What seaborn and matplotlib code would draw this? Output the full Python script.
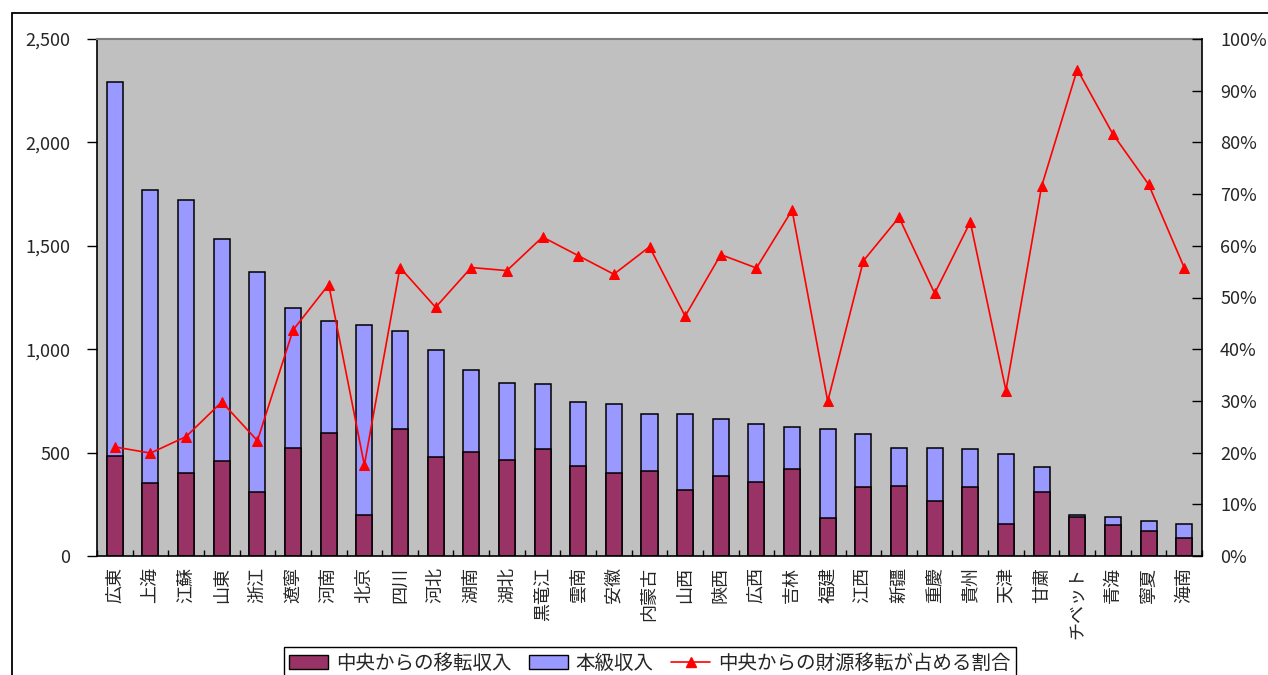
import numpy as np
import pandas as pd
import matplotlib
matplotlib.use("Agg")
import matplotlib.pyplot as plt
import seaborn as sns
from matplotlib.ticker import FuncFormatter, FixedLocator, MultipleLocator
from matplotlib.patches import Patch, Rectangle
from matplotlib.lines import Line2D

# Provincial revenue (100 million yuan) and share of central transfers
provinces = ["広東", "上海", "江蘇", "山東", "浙江", "遼寧", "河南", "北京", "四川", "河北",
             "湖南", "湖北", "黒竜江", "雲南", "安徽", "内蒙古", "山西", "陝西", "広西", "吉林",
             "福建", "江西", "新疆", "重慶", "貴州", "天津", "甘粛", "チベット", "青海", "寧夏", "海南"]
transfer = [484, 351, 400, 460, 310, 522, 593, 199, 612, 481,
            503, 462, 516, 436, 400, 412, 320, 388, 358, 419,
            182, 334, 339, 266, 334, 156, 310, 190, 152, 119, 85]
own_revenue = [1808, 1417, 1320, 1071, 1064, 675, 542, 919, 475, 514,
               397, 375, 316, 310, 335, 275, 367, 275, 279, 207,
               432, 256, 183, 256, 182, 335, 121, 9, 37, 51, 71]
transfer_share = [21.1, 19.9, 23.1, 29.8, 22.3, 43.7, 52.5, 17.6, 55.8, 48.1,
                  55.8, 55.2, 61.7, 58.1, 54.5, 59.8, 46.4, 58.3, 55.7, 66.9,
                  29.9, 57.1, 65.5, 50.8, 64.6, 32.0, 71.5, 94.1, 81.6, 71.9, 55.8]

series_labels = ["中央からの移転収入", "本級収入", "中央からの財源移転が占める割合"]

C_TRANSFER = "#993366"
C_OWN = "#9999FF"
C_LINE = "#FF0000"

sns.set_style("white")
plt.rcParams["font.family"] = ["Noto Sans CJK JP", "DejaVu Sans"]

df = pd.DataFrame({"province": provinces, "transfer": transfer, "own": own_revenue})
df["total"] = df["transfer"] + df["own"]
n = len(df)

W, H = 1268, 675
fig = plt.figure(figsize=(W / 100, H / 100), dpi=100)
ax = fig.add_axes([97 / W, 1 - 556 / H, (1202 - 97) / W, (556 - 39) / H])
ax.set_facecolor("#C0C0C0")

# stacked bars: full height in light colour, transfer part on top of it at the bottom
sns.barplot(data=df, x="province", y="total", color=C_OWN, saturation=1, width=0.45,
            edgecolor="black", linewidth=1.1, ax=ax)
sns.barplot(data=df, x="province", y="transfer", color=C_TRANSFER, saturation=1, width=0.45,
            edgecolor="black", linewidth=1.1, ax=ax)

ax.set_ylim(0, 2500)
ax.yaxis.set_major_locator(MultipleLocator(500))
ax.yaxis.set_major_formatter(FuncFormatter(lambda v, p: f"{int(v):,}"))
ax.set_xlabel("")
ax.set_ylabel("")

# share line on the secondary axis
ax2 = ax.twinx()
sns.lineplot(x=np.arange(n), y=transfer_share, color=C_LINE, marker="^", markersize=7,
             markeredgecolor=C_LINE, linewidth=1.2, ax=ax2)
ax2.set_ylim(0, 100)
ax2.yaxis.set_major_locator(MultipleLocator(10))
ax2.yaxis.set_major_formatter(FuncFormatter(lambda v, p: f"{int(round(v))}%"))
ax2.set_ylabel("")
ax.set_xlim(-0.5, n - 0.5)

ax.set_xticks(range(n))
ax.set_xticklabels(provinces, rotation=90, fontsize=13)
ax.xaxis.set_minor_locator(FixedLocator(np.arange(-0.5, n)))
ax.tick_params(axis="x", which="major", length=0, pad=8, bottom=True)
ax.tick_params(axis="x", which="minor", direction="in", length=4, width=1, bottom=True, color="black")
ax.tick_params(axis="y", direction="out", length=7, width=1, pad=12, labelsize=13,
               left=True, color="black")
ax2.tick_params(axis="y", direction="in", length=7, width=1, pad=13, labelsize=13,
                right=True, color="black")

for s in ["left", "bottom"]:
    ax.spines[s].set_color("black")
    ax.spines[s].set_linewidth(1.2)
ax.spines["top"].set_color("#808080")
ax.spines["top"].set_linewidth(1.5)
ax.spines["right"].set_visible(False)
for s in ["left", "top", "bottom"]:
    ax2.spines[s].set_visible(False)
ax2.spines["right"].set_color("black")
ax2.spines["right"].set_linewidth(1.2)

handles = [
    Patch(facecolor=C_TRANSFER, edgecolor="black", label=series_labels[0]),
    Patch(facecolor=C_OWN, edgecolor="black", label=series_labels[1]),
    Line2D([], [], color=C_LINE, marker="^", markersize=7, linewidth=1.2, label=series_labels[2]),
]
leg = fig.legend(handles=handles, loc="upper center", bbox_to_anchor=(650 / W, 1 - 647 / H),
                 ncol=3, frameon=True, fancybox=False, edgecolor="black", fontsize=14,
                 handlelength=2.0, handleheight=0.7, handletextpad=0.4, columnspacing=0.9,
                 borderpad=0.3, borderaxespad=0)
leg.get_frame().set_linewidth(1)
leg.get_frame().set_alpha(1)

# outer chart frame
fig.patches.append(Rectangle((12 / W, -0.5), 2, 1.5 - 13.3 / H, transform=fig.transFigure,
                             fill=False, edgecolor="black", linewidth=1.3))

fig.savefig("out.png", dpi=100)
